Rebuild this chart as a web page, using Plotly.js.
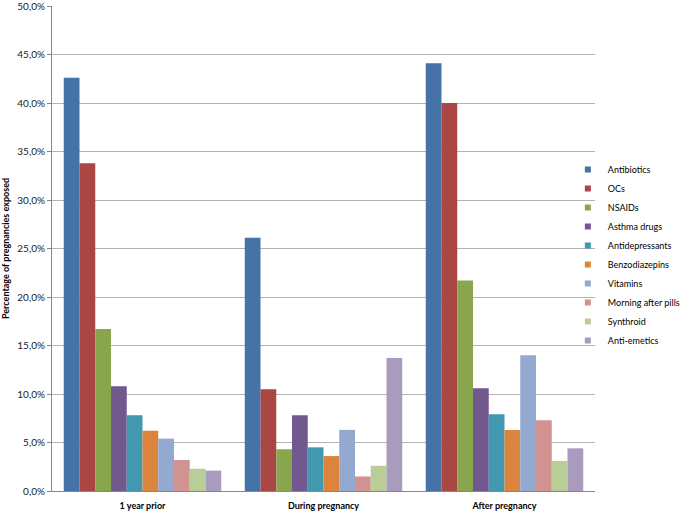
<!DOCTYPE html>
<html>
<head>
<meta charset="utf-8">
<script src="https://cdn.plot.ly/plotly-3.0.1.min.js"></script>
<style>html,body{margin:0;padding:0;background:#fff;}#chart{width:689px;height:513px;}</style>
</head>
<body>
<div id="chart"></div>
<script>
const categories = ["1 year prior", "During pregnancy", "After pregnancy"];
const seriesNames = ["Antibiotics", "OCs", "NSAIDs", "Asthma drugs", "Antidepressants", "Benzodiazepins", "Vitamins", "Morning after pills", "Synthroid", "Anti-emetics"];
const antibiotics = [42.6, 26.1, 44.1];
const ocs = [33.8, 10.5, 40.0];
const nsaids = [16.7, 4.3, 21.7];
const asthmaDrugs = [10.8, 7.8, 10.6];
const antidepressants = [7.8, 4.5, 7.9];
const benzodiazepins = [6.2, 3.6, 6.3];
const vitamins = [5.4, 6.3, 14.0];
const morningAfterPills = [3.2, 1.5, 7.3];
const synthroid = [2.3, 2.6, 3.1];
const antiEmetics = [2.1, 13.7, 4.4];
const colors = ["#4572A7", "#AA4643", "#89A54E", "#71588F", "#4198AF", "#DB843D", "#93A9CF", "#D19392", "#B9CD96", "#A99BBD"];
const yTickVals = [0, 5, 10, 15, 20, 25, 30, 35, 40, 45, 50];
const yTickText = ["0,0%", "5,0%", "10,0%", "15,0%", "20,0%", "25,0%", "30,0%", "35,0%", "40,0%", "45,0%", "50,0%"];

const seriesValues = [antibiotics, ocs, nsaids, asthmaDrugs, antidepressants, benzodiazepins, vitamins, morningAfterPills, synthroid, antiEmetics];

const traces = [];
seriesValues.forEach((vals, i) => {
  traces.push({
    type: "bar",
    name: seriesNames[i],
    x: categories,
    y: vals,
    marker: {color: colors[i], line: {width: 0}},
    showlegend: false,
    hoverinfo: "name+y"
  });
});
// legend entries (small square markers)
seriesValues.forEach((vals, i) => {
  traces.push({
    type: "scatter",
    mode: "markers",
    name: seriesNames[i],
    x: [null],
    y: [null],
    marker: {color: colors[i], symbol: "square", size: 6},
    showlegend: true,
    hoverinfo: "skip"
  });
});

const layout = {
  width: 689,
  height: 513,
  margin: {l: 52, r: 94, t: 6, b: 22, autoexpand: false},
  paper_bgcolor: "#ffffff",
  plot_bgcolor: "#ffffff",
  barmode: "group",
  bargap: 0.13,
  bargroupgap: 0,
  font: {family: "Lato, 'Open Sans', sans-serif", size: 9, color: "#000000"},
  xaxis: {
    type: "category",
    showgrid: false,
    showline: true,
    linecolor: "#868686",
    linewidth: 1,
    ticks: "",
    ticklabelstandoff: 6,
    tickfont: {family: "Lato, sans-serif", size: 9, color: "#000000", weight: "bold"},
    fixedrange: true,
    zeroline: false
  },
  yaxis: {
    range: [0, 50],
    tickmode: "array",
    tickvals: yTickVals,
    ticktext: yTickText,
    ticklabeloverflow: "allow",
    showgrid: true,
    gridcolor: "#b3b3b3",
    gridwidth: 1,
    showline: true,
    linecolor: "#868686",
    linewidth: 1,
    ticks: "outside",
    ticklen: 4,
    tickcolor: "#868686",
    tickfont: {family: "Lato, sans-serif", size: 10, color: "#1a1a1a"},
    zeroline: false,
    title: {text: "Percentage of pregnancies exposed", font: {family: "Lato, sans-serif", size: 9, color: "#000000", weight: "bold"}, standoff: 8},
    fixedrange: true
  },
  legend: {
    x: 0.95,
    xanchor: "left",
    y: 0.4866,
    yanchor: "middle",
    bgcolor: "rgba(0,0,0,0)",
    font: {family: "Lato, sans-serif", size: 9, color: "#000000"},
    itemwidth: 30,
    tracegroupgap: 0
  }
};

Plotly.newPlot("chart", traces, layout, {displayModeBar: false, staticPlot: true});
</script>
</body>
</html>
